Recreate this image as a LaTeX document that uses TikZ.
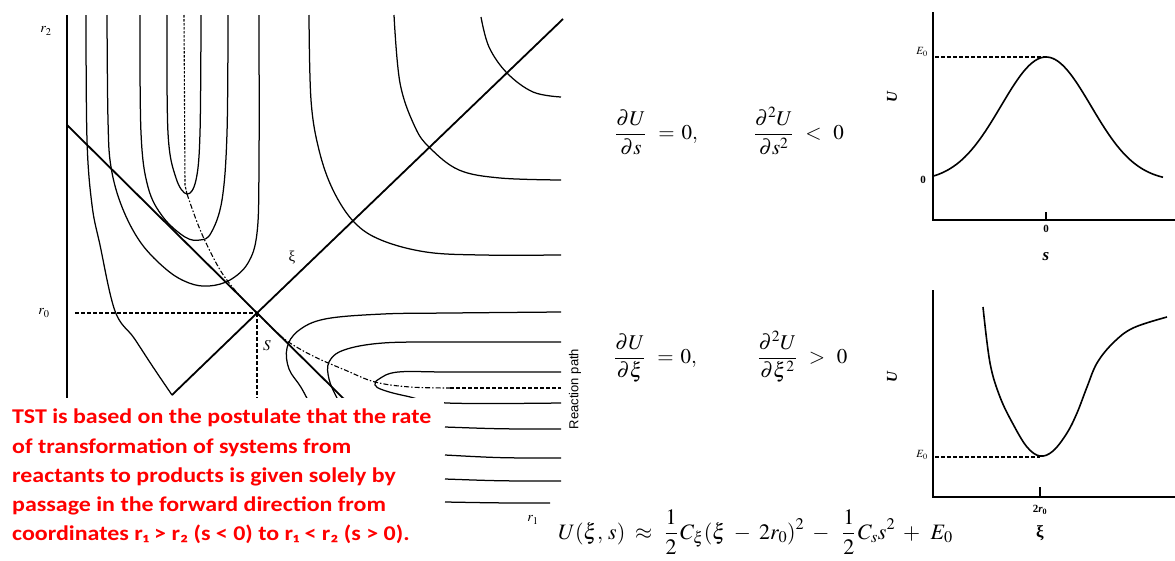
\documentclass[tikz,border=0pt]{standalone}
\usepackage{mathptmx}
\usepackage{fontspec}
\setmainfont{Liberation Serif}
\newfontfamily\carlito[FakeStretch=1.14]{Carlito}
\newfontfamily\arialf{Liberation Sans}
\begin{document}
\begin{tikzpicture}[x=1pt,y=-1pt,
  contour/.style={line width=1.25pt,line join=round},
  axisln/.style={line width=1.4pt},
  dsh/.style={line width=1.1pt,dash pattern=on 3.5pt off 2.5pt},
  rpath/.style={line width=1.1pt,dash pattern=on 5pt off 2pt on 1.5pt off 2pt},
  lbl/.style={inner sep=0pt},
  curveln/.style={line width=1.6pt},
  redtxt/.style={inner sep=0pt,anchor=north west,text=red,align=left,font=\carlito\bfseries\fontsize{21}{29.25}\selectfont}]
\useasboundingbox (0,0) rectangle (1175,560);
% ---------- contour plot ----------
\coordinate (topaxis) at (67,15);
\coordinate (botaxis) at (67,560);
\draw[contour] (topaxis) -- (botaxis);
% U-shaped contours upper left
\draw[contour] plot[smooth,tension=0.6] coordinates {(86,15) (87,140) (92,205) (100,245) (115,311) (134,338) (153,367) (172,395)};
\draw[contour] plot[smooth,tension=0.6] coordinates {(107,15) (108,120) (111,167) (122,207) (141,243) (167,270) (189,283) (209,286) (230,280) (248,263) (257,233) (259,167) (259,15)};
\draw[contour] plot[smooth,tension=0.6] coordinates {(140,15) (141,133) (148,187) (163,217) (185,237) (200,240) (211,233) (222,200) (227,133) (228,15)};
\draw[contour] plot[smooth,tension=0.6] coordinates {(167,15) (168,133) (176,178) (187,194) (196,180) (200,133) (201,15)};
% upper right contours
\draw[contour] plot[smooth,tension=0.6] coordinates {(309,15) (311,100) (319,150) (333,190) (354,222) (381,240) (426,252) (481,255) (561,255)};
\draw[contour] plot[smooth,tension=0.6] coordinates {(394,15) (400,83) (415,127) (430,148) (459,170) (500,178) (561,180)};
\draw[contour] plot[smooth,tension=0.6] coordinates {(481,17) (489,47) (507,73) (533,92) (561,97)};
% lower right contours
\draw[contour] plot[smooth,tension=0.6] coordinates {(561,312) (450,313) (383,314) (325,319) (298,331) (287,348) (289,369) (302,389) (318,420)};
\draw[contour] plot[smooth,tension=0.6] coordinates {(561,342) (450,342) (383,343) (344,350) (329,362) (329,379) (337,398) (350,420)};
\draw[contour] plot[smooth,tension=0.6] coordinates {(561,372) (450,372) (398,372) (379,379) (375,385) (383,390) (406,396) (447,403) (561,403)};
\draw[contour] (445,427) .. controls (500,429) .. (561,429);
\draw[contour] (445,455) .. controls (500,458) .. (561,458);
\draw[contour] (445,479) .. controls (500,481) .. (561,481);
\draw[contour] (445,502) .. controls (500,503) .. (550,503);
% axes of the saddle
\coordinate (sA) at (67,125);
\coordinate (S0) at (257,313);
\coordinate (sB) at (345,400);
\coordinate (xA) at (172,395);
\coordinate (xB) at (563,19);
\draw[line width=1.8pt] (sA) -- (S0) -- (sB);
\draw[line width=1.8pt] (xA) -- (S0) -- (xB);
% r0 guides
\coordinate (r0a) at (75,313);
\coordinate (sdown) at (257,400);
\draw[dsh] (r0a) -- (S0);
\draw[dsh] (S0) -- (sdown);
% reaction path
\draw[line width=1.1pt,dash pattern=on 2.5pt off 1.5pt] (184,15) -- (185,185) -- (187,194);
\draw[rpath] plot[smooth,tension=0.6] coordinates {(187,194) (197,222) (207,245) (222,273) (240,296) (257,313)};
\draw[rpath] plot[smooth,tension=0.6] coordinates {(257,313) (274,330) (290,343) (315,357) (345,370) (375,382) (410,387) (450,388)};
\draw[dsh] (450,388) -- (561,388);
% labels
\node[lbl] (r2) at (46,31) {\fontsize{14}{14}\selectfont$r_2$};
\node[lbl] (r0) at (44,313) {\fontsize{14}{14}\selectfont$r_0$};
\node[lbl] (xi) at (292,258) {\fontsize{15}{15}\selectfont ξ};
\node[lbl] (slab) at (267,346) {\fontsize{15}{15}\selectfont$S$};
\node[lbl] (r1) at (533,520) {\fontsize{14}{14}\selectfont$r_1$};
\node[lbl,rotate=90] (rp) at (575,389) {\arialf\fontsize{13}{13}\selectfont Reaction path};
% white box with red text
\fill[white] (0,398) rectangle (444,560);
\node[redtxt] (tst) at (12,409) {TST is based on the postulate that the rate\\of transformation of systems from\\reactants to products is given solely by\\passage in the forward direction from\\coordinates r₁ > r₂ (s < 0) to r₁ < r₂ (s > 0).};
% ---------- equations ----------
\node[lbl,anchor=west] (eq1) at (615,131) {\fontsize{21}{25}\selectfont$\displaystyle \frac{\partial U}{\partial s}\;\,=\,0,\qquad\;\;\, \frac{\partial^2 U}{\partial s^2}\;\,<\;\,0$};
\node[lbl,anchor=west] (eq2) at (614,357) {\fontsize{21}{25}\selectfont$\displaystyle \frac{\partial U}{\partial \xi}\;\,=\,0,\qquad\;\;\;\, \frac{\partial^2 U}{\partial \xi^2}\;\,>\;\,0$};
\node[lbl,anchor=base west] (eq3) at (558,539) {\fontsize{22}{25}\selectfont$\displaystyle U(\xi,\,s)\;\approx\;\,\frac{1}{2}\,C_\xi(\xi\;-\;2r_0)^2\;-\;\;\frac{1}{2}\,C_s s^2\;+\;\,E_0$};
% ---------- top plot ----------
\coordinate (tyT) at (933,12);
\coordinate (tO) at (933,220);
\coordinate (txR) at (1175,220);
\draw[curveln] (tyT) -- (tO) -- (txR);
\coordinate (tk1) at (1046,212);
\coordinate (tk1b) at (1046,220);
\draw[axisln] (tk1) -- (tk1b);
\coordinate (tE0) at (935,57);
\coordinate (tpk) at (1046,57);
\draw[dsh] (tE0) -- (tpk);
\draw[curveln] plot[domain=933:1163,samples=80] (\x,{181.5-124.5*exp(-((\x-1046)^2)/4050)});
\node[lbl] (tE) at (922,52) {\fontsize{11}{11}\selectfont$E_0$};
\node[lbl] (tz) at (923,180) {\fontsize{11}{11}\selectfont\bfseries 0};
\node[lbl] (tz2) at (1046,229) {\fontsize{11}{11}\selectfont\bfseries 0};
\node[lbl] (ts) at (1046,257) {\fontsize{17}{17}\selectfont\bfseries\itshape s};
\node[lbl,rotate=90] (tU) at (892,97) {\fontsize{15}{15}\selectfont\bfseries\itshape U};
% ---------- bottom plot ----------
\coordinate (byT) at (933,290);
\coordinate (bO) at (933,497);
\coordinate (bxR) at (1175,497);
\draw[curveln] (byT) -- (bO) -- (bxR);
\coordinate (tk2) at (1040,487);
\coordinate (tk2b) at (1040,497);
\draw[axisln] (tk2) -- (tk2b);
\coordinate (bE0) at (935,457);
\coordinate (bmin) at (1040,457);
\draw[dsh] (bE0) -- (bmin);
\draw[curveln] plot[smooth,tension=0.6] coordinates {(983,307) (990,363) (1000,397) (1013,424) (1027,447) (1040,456) (1053,451) (1067,433) (1077,413) (1087,387) (1097,363) (1113,343) (1133,328) (1167,317)};
\node[lbl] (bE) at (922,455) {\fontsize{11}{11}\selectfont$E_0$};
\node[lbl] (b2r) at (1040,510) {\fontsize{11}{11}\selectfont\bfseries 2\textit{r}\textsubscript{0}};
\node[lbl] (bxi) at (1040,533) {\fontsize{17}{17}\selectfont\bfseries ξ};
\node[lbl,rotate=90] (bU) at (892,377) {\fontsize{15}{15}\selectfont\bfseries\itshape U};
\end{tikzpicture}
\end{document}
